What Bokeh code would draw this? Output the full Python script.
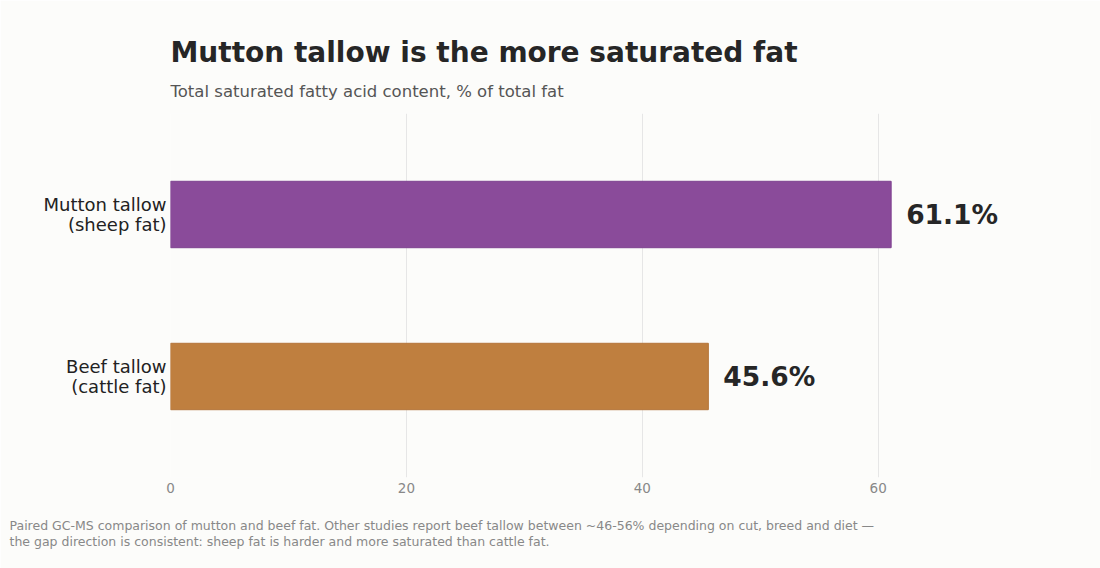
from bokeh.plotting import figure
from bokeh.models import Range1d, FixedTicker, Title, ColumnDataSource
from bokeh.core.properties import value
from bokeh.embed import file_html
from bokeh.resources import INLINE

# ---- data ----
categories = ["Beef tallow\n(cattle fat)", "Mutton tallow\n(sheep fat)"]
sat_values = [45.6, 61.1]
bar_colors = ["#bf7f3f", "#8a4b9a"]
bar_edges = ["#b4753a", "#7e4290"]
x_ticks = [0, 20, 40, 60]

title_text = "Mutton tallow is the more saturated fat"
subtitle_text = "Total saturated fatty acid content, % of total fat"
footer_text = (
    "Paired GC-MS comparison of mutton and beef fat. Other studies report beef tallow between ~46-56% depending on cut, breed and diet \u2014\n"
    "the gap direction is consistent: sheep fat is harder and more saturated than cattle fat."
)

FONT = "DejaVu Sans"
BG = "#fcfcfa"

ypos = list(range(len(categories)))
src = ColumnDataSource(dict(
    y=ypos,
    v=sat_values,
    fill=bar_colors,
    edge=bar_edges,
    lab=[f"{v:.1f}%" for v in sat_values],
))

p = figure(
    width=1100, height=568,
    title=None,
    x_range=Range1d(0, 78),
    y_range=Range1d(-0.6235, 1.6235),
    output_backend="svg",
    toolbar_location=None,
    min_border_left=170, min_border_right=10,
    min_border_top=113, min_border_bottom=91,
    background_fill_color=BG, border_fill_color=BG,
    outline_line_color=None,
)

p.hbar(y="y", left=0, right="v", height=0.41, fill_color="fill",
       line_color="edge", line_width=1, source=src)

p.text(x="v", y="y", text="lab", x_offset=15, text_baseline="middle",
       text_align="left", text_font=value(FONT), text_font_style="bold",
       text_font_size="26.5px", text_color="#262626", source=src)

# axes
p.xaxis.ticker = FixedTicker(ticks=x_ticks)
p.xaxis.axis_line_color = None
p.xaxis.major_tick_line_color = None
p.xaxis.minor_tick_line_color = None
p.xaxis.major_label_text_font = FONT
p.xaxis.major_label_text_font_size = "13.5px"
p.xaxis.major_label_text_color = "#888888"
p.xaxis.major_label_standoff = -1

p.yaxis.ticker = FixedTicker(ticks=ypos)
p.yaxis.major_label_overrides = {i: c for i, c in zip(ypos, categories)}
p.yaxis.axis_line_color = None
p.yaxis.major_tick_line_color = None
p.yaxis.minor_tick_line_color = None
p.yaxis.major_label_text_font = FONT
p.yaxis.major_label_text_font_size = "18px"
p.yaxis.major_label_text_line_height = 0.95
p.yaxis.major_label_text_color = "#222222"
p.yaxis.major_label_standoff = -2

p.xgrid.ticker = FixedTicker(ticks=x_ticks)
p.xgrid.grid_line_color = "#e6e6e6"
p.xgrid.grid_line_width = 1
p.ygrid.grid_line_color = None

# titles: added nearest-first
p.add_layout(Title(text=subtitle_text, align="left", text_font=FONT,
                   text_font_size="16.5px", text_font_style="normal",
                   text_color="#555555", standoff=26), "above")
p.add_layout(Title(text=title_text, align="left", text_font=FONT,
                   text_font_size="28px", text_font_style="bold",
                   text_color="#262626", standoff=-4), "above")

p.add_layout(Title(text=footer_text, align="left", offset=-161, text_font=FONT,
                   text_font_size="12.5px", text_font_style="normal",
                   text_line_height=1.1,
                   text_color="#888888", standoff=39), "below")

open("out.html", "w").write(file_html(p, INLINE))
